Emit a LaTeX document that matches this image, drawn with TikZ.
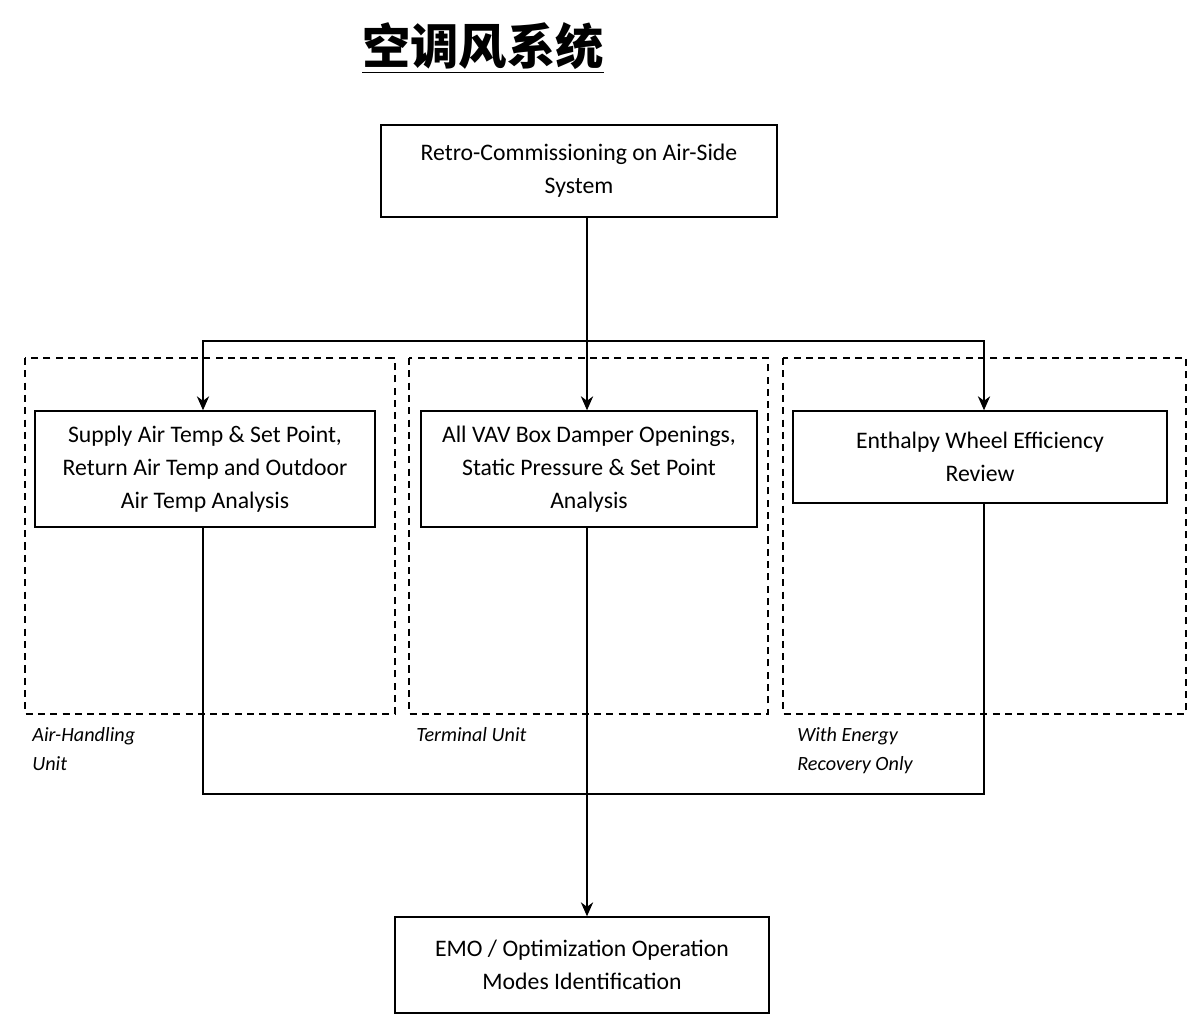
\documentclass[tikz,border=0pt]{standalone}
\usepackage{fontspec}
\setmainfont{Carlito}
\newfontfamily\cjk{Noto Sans CJK SC}
\usetikzlibrary{arrows.meta,positioning}
\tikzset{
  box/.style = {draw, thick, align=center, font=\fontsize{13.5}{18.8}\selectfont, inner sep=0pt},
  group/.style = {draw, thick, dashed, dash pattern=on 4pt off 3pt},
  tag/.style = {anchor=north west, align=left, font=\fontsize{11.5}{16.5}\selectfont\itshape, inner sep=0pt},
  link/.style = {thick, -{Stealth[length=8pt,width=7pt]}}
}
\begin{document}
\begin{tikzpicture}[x=0.02cm,y=-0.02cm]
\useasboundingbox (0,0) rectangle (1202,1028);

% -- title
\node[font=\cjk\bfseries\fontsize{27.5}{32}\selectfont] (title) at (483,48) {\underline{空调风系统}};

% -- dashed groups
\draw[group] (25,358) rectangle (395,714);
\draw[group] (409,358) rectangle (768,714);
\draw[group] (783,358) rectangle (1186,714);

% -- boxes
\node[box, minimum width=396*0.02cm, minimum height=92*0.02cm] (root) at (579,171) {Retro-Commissioning on Air-Side\\System};
\node[box, minimum width=340*0.02cm, minimum height=116*0.02cm] (ahu) at (205,469) {Supply Air Temp \& Set Point,\\Return Air Temp and Outdoor\\Air Temp Analysis};
\node[box, minimum width=336*0.02cm, minimum height=116*0.02cm] (vav) at (589,469) {All VAV Box Damper Openings,\\Static Pressure \& Set Point\\Analysis};
\node[box, minimum width=374*0.02cm, minimum height=92*0.02cm] (erw) at (980,457) {Enthalpy Wheel Efficiency\\Review};
\node[box, minimum width=374*0.02cm, minimum height=96*0.02cm] (emo) at (582,965) {EMO / Optimization Operation\\Modes Identification};

% -- tags
\node[tag] (tahu) at (32,727) {Air-Handling\\Unit};
\node[tag] (tvav) at (416,727) {Terminal Unit};
\node[tag] (terw) at (797,727) {With Energy\\Recovery Only};

% -- connectors
\coordinate (split) at (587,341);
\coordinate (join) at (587,794);
\draw[thick] (root.south -| split) -- (split);
\draw[link] (split) -- (vav.north -| split);
\draw[link] (split) -| (ahu.north -| 203,0);
\draw[link] (split) -| (erw.north -| 984,0);
\draw[thick] (ahu.south -| 203,0) |- (join) -| (erw.south -| 984,0);
\draw[link] (vav.south -| split) -- (emo.north -| split);
\end{tikzpicture}
\end{document}
